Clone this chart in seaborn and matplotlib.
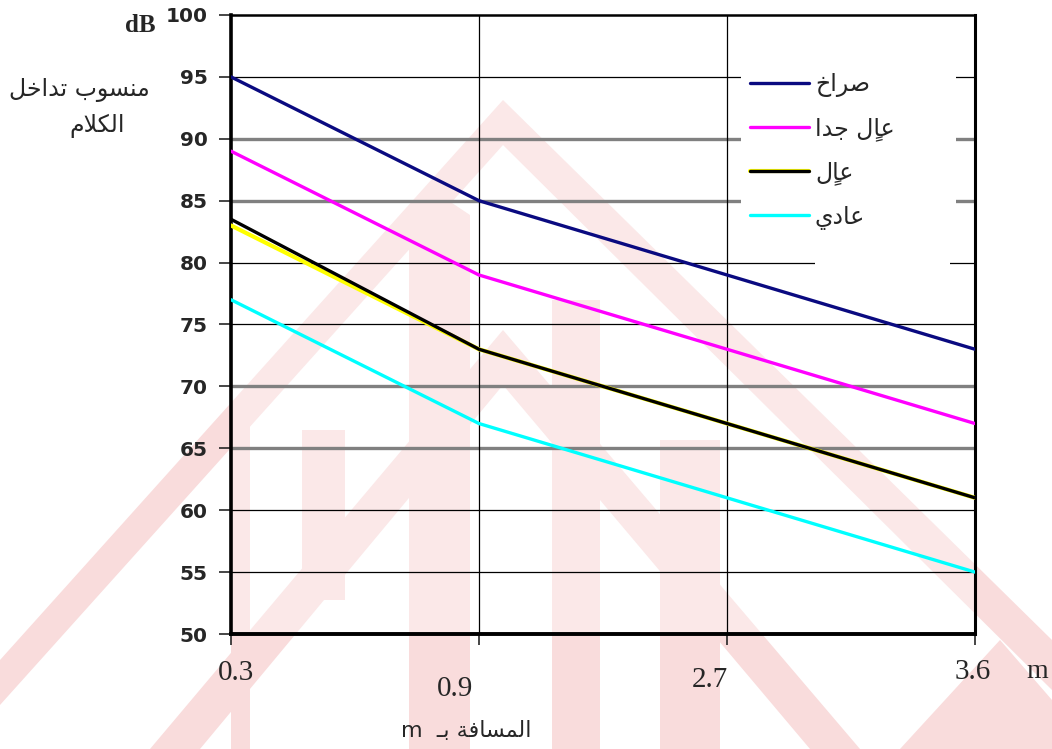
"""Speech interference level vs distance - recreated with seaborn."""

import unicodedata

import matplotlib
matplotlib.use("Agg")
import matplotlib.pyplot as plt
from matplotlib.patches import Polygon, Rectangle
from matplotlib.lines import Line2D
from matplotlib.transforms import ScaledTranslation
import seaborn as sns

# --- data -----------------------------------------------------------------
distances = ["0.3", "0.9", "2.7", "3.6"]
scream = [95, 85, 79, 73]
very_loud = [89, 79, 73, 67]
loud = [83.5, 73, 67, 61]
loud_edge = [83, 73, 67, 61]  # yellow line under the black one
normal = [77, 67, 61, 55]

series_names = ["صراخ", "عالٍ جدا", "عالٍ", "عادي"]
series_colors = ["#0a0a80", "#ff00ff", "#000000", "#00ffff"]

y_ticks = [50, 55, 60, 65, 70, 75, 80, 85, 90, 95, 100]
dark_grid = [55, 60, 75, 80, 95]
gray_grid = [65, 70, 85, 90]

W, H = 1052, 749

# --- arabic: matplotlib has no shaping, so use presentation forms ----------
AR_FORMS = {
    "ا": ("\ufe8d", "\ufe8e", None, None),
    "ب": ("\ufe8f", "\ufe90", "\ufe91", "\ufe92"),
    "ة": ("\ufe93", "\ufe94", None, None),
    "ت": ("\ufe95", "\ufe96", "\ufe97", "\ufe98"),
    "ج": ("\ufe9d", "\ufe9e", "\ufe9f", "\ufea0"),
    "خ": ("\ufea5", "\ufea6", "\ufea7", "\ufea8"),
    "د": ("\ufea9", "\ufeaa", None, None),
    "ر": ("\ufead", "\ufeae", None, None),
    "س": ("\ufeb1", "\ufeb2", "\ufeb3", "\ufeb4"),
    "ص": ("\ufeb9", "\ufeba", "\ufebb", "\ufebc"),
    "ع": ("\ufec9", "\ufeca", "\ufecb", "\ufecc"),
    "ف": ("\ufed1", "\ufed2", "\ufed3", "\ufed4"),
    "ك": ("\ufed9", "\ufeda", "\ufedb", "\ufedc"),
    "ل": ("\ufedd", "\ufede", "\ufedf", "\ufee0"),
    "م": ("\ufee1", "\ufee2", "\ufee3", "\ufee4"),
    "ن": ("\ufee5", "\ufee6", "\ufee7", "\ufee8"),
    "و": ("\ufeed", "\ufeee", None, None),
    "ي": ("\ufef1", "\ufef2", "\ufef3", "\ufef4"),
    "ـ": ("ـ", "ـ", "ـ", "ـ"),
    "لا": ("\ufefb", "\ufefc", None, None),
}


def ar(text):
    """Join arabic letters and put them in visual (left-to-right) order."""
    items = []
    for ch in text:
        if unicodedata.combining(ch) and items:
            items[-1][1] += ch
        elif ch == "ا" and items and items[-1][0] == "ل" and not items[-1][1]:
            items[-1][0] = "لا"
        else:
            items.append([ch, ""])
    glyphs = []
    for i, (base, marks) in enumerate(items):
        forms = AR_FORMS.get(base)
        if forms is None:
            glyphs.append(base + marks)
            continue
        prev = items[i - 1][0] if i > 0 else None
        nxt = items[i + 1][0] if i + 1 < len(items) else None
        join_prev = prev in AR_FORMS and AR_FORMS[prev][2] is not None
        join_next = forms[2] is not None and nxt in AR_FORMS
        if join_prev and join_next:
            g = forms[3]
        elif join_prev:
            g = forms[1]
        elif join_next:
            g = forms[2]
        else:
            g = forms[0]
        glyphs.append(g + marks)
    return "".join(reversed(glyphs))


def px(x, y):
    """pixel position (y from top) -> figure fraction"""
    return (x / W, 1 - y / H)


sns.set_style("white")
plt.rcParams["font.family"] = ["DejaVu Sans"]

fig = plt.figure(figsize=(W / 100, H / 100), dpi=100)
fig.patch.set_facecolor("white")

# faint watermark behind the chart
wm_color = "#f9dcdc"
watermark = [
    [(0, 660), (503, 100), (1052, 640), (1052, 690), (503, 145), (0, 705)],
    [(150, 749), (503, 330), (860, 749), (810, 749), (503, 385), (200, 749)],
    [(231, 420), (250, 420), (250, 749), (231, 749)],
    [(302, 430), (345, 430), (345, 600), (302, 600)],
    [(409, 215), (440, 195), (470, 215), (470, 749), (409, 749)],
    [(552, 300), (600, 300), (600, 749), (552, 749)],
    [(660, 440), (720, 440), (720, 749), (660, 749)],
    [(900, 749), (1000, 640), (1052, 700), (1052, 749)],
]
for poly in watermark:
    fig.add_artist(Polygon([px(*p) for p in poly], closed=True, transform=fig.transFigure,
                           facecolor=wm_color, edgecolor="none", zorder=-1))

left, right, top, bottom = 231, 975, 15, 634
ax = fig.add_axes([left / W, 1 - bottom / H, (right - left) / W, (bottom - top) / H])
ax.set_facecolor((1, 1, 1, 0.35))

# lines
sns.lineplot(x=distances, y=loud_edge, color="#ffff00", lw=3.0, ax=ax, zorder=4)
for vals, col in zip([scream, very_loud, loud, normal], series_colors):
    sns.lineplot(x=distances, y=vals, color=col, lw=2.4, ax=ax, zorder=5)

# grid: Excel style, alternating black / gray lines
for v in dark_grid:
    ax.axhline(v, color="black", lw=0.9, zorder=2)
for v in gray_grid:
    ax.axhline(v, color="#808080", lw=2.4, zorder=2)
for i in [1, 2]:
    ax.axvline(i, color="black", lw=0.9, zorder=2)

ax.set_xlim(0, 3)
ax.set_ylim(50, 100)
ax.set_yticks(y_ticks)
ax.set_xticks(range(len(distances)), labels=distances)
ax.set_xlabel("")
ax.set_ylabel("")

for side, lw in [("left", 2.6), ("bottom", 2.8), ("top", 1.8), ("right", 2.2)]:
    ax.spines[side].set_visible(True)
    ax.spines[side].set_color("black")
    ax.spines[side].set_linewidth(lw)

ax.tick_params(axis="y", direction="out", length=9, width=1.2, pad=8, left=True)
ax.tick_params(axis="x", direction="out", length=8, width=1.2, bottom=True)
for lab in ax.get_yticklabels():
    lab.set_fontfamily("DejaVu Sans")
    lab.set_fontweight("bold")
    lab.set_fontsize(14.5)

# x tick labels sit at slightly different places, like in the original
x_pads = [11, 22, 16, 10]
x_shift = [5, -24, -17, -2]
for tick, pad, dx in zip(ax.xaxis.get_major_ticks(), x_pads, x_shift):
    tick.set_pad(pad)
    tick.label1.set_fontfamily("Liberation Serif")
    tick.label1.set_fontsize(21)
    tick.label1.set_transform(tick.label1.get_transform()
                              + ScaledTranslation(dx / 100, 0, fig.dpi_scale_trans))

# white legend area covering the grid
for (x0, y0, x1, y1) in [(741, 58, 956, 252), (815, 252, 950, 272)]:
    ax.add_patch(Rectangle(px(x0, y1), (x1 - x0) / W, (y1 - y0) / H,
                           transform=fig.transFigure, facecolor="white",
                           edgecolor="none", zorder=3))

handles = [
    Line2D([], [], color=series_colors[0], lw=2.4),
    Line2D([], [], color=series_colors[1], lw=2.4),
    (Line2D([], [], color="#ffff00", lw=3.0), Line2D([], [], color="black", lw=2.4)),
    Line2D([], [], color=series_colors[3], lw=2.4),
]
leg = ax.legend(handles, [ar(s) for s in series_names], loc="upper left",
                bbox_to_anchor=px(750, 72), bbox_transform=fig.transFigure,
                frameon=False, fontsize=17, handlelength=2.5, handletextpad=0.25,
                labelspacing=0.82, borderaxespad=0, borderpad=0)
leg.set_zorder(6)

# axis titles
fig.text(*px(140, 25), "dB", ha="center", va="center", fontsize=18,
         fontweight="bold", family="Liberation Serif")
fig.text(*px(79, 90), ar("منسوب تداخل"), ha="center", va="center", fontsize=17)
fig.text(*px(97, 126), ar("الكلام"), ha="center", va="center", fontsize=17)
fig.text(*px(1037, 672), "m", ha="center", va="center", fontsize=20,
         family="Liberation Serif")
fig.text(*px(466, 731), ar("المسافة بـ  m"), ha="center", va="center", fontsize=16,
         family=["DejaVu Sans"])

fig.savefig("out.png", dpi=100)
